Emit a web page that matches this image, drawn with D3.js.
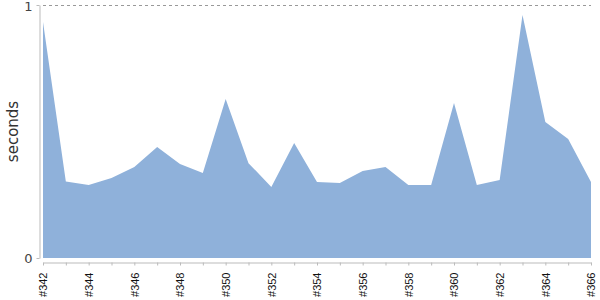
<!DOCTYPE html>
<html>
<head>
<meta charset="utf-8">
<script src="https://cdn.jsdelivr.net/npm/d3@7"></script>
<style>
  body { margin: 0; background: #fff; }
  svg { display: block; font-family: "Liberation Sans", Arial, sans-serif; }
</style>
</head>
<body>
<svg id="chart" width="600" height="300"></svg>
<script>
// builds on the x axis
var builds = ["#342","#343","#344","#345","#346","#347","#348","#349","#350","#351",
              "#352","#353","#354","#355","#356","#357","#358","#359","#360","#361",
              "#362","#363","#364","#365","#366"];
// duration in seconds
var seconds = [0.933, 0.302, 0.289, 0.316, 0.360, 0.439, 0.372, 0.336, 0.628, 0.375,
               0.281, 0.455, 0.300, 0.296, 0.344, 0.360, 0.289, 0.289, 0.613, 0.289,
               0.308, 0.960, 0.538, 0.470, 0.300];
var yTicks = [0, 1];

var margin = {top: 5, right: 9, bottom: 42, left: 43};
var width = 600, height = 300;

var svg = d3.select("#chart");

var x = d3.scalePoint()
    .domain(builds)
    .range([margin.left, width - margin.right]);

var y = d3.scaleLinear()
    .domain([0, 1])
    .range([height - margin.bottom, margin.top]);

var data = builds.map(function(b, i) { return {build: b, value: seconds[i]}; });

// area
var area = d3.area()
    .x(function(d) { return x(d.build); })
    .y0(y(0))
    .y1(function(d) { return y(d.value); });

svg.append("path")
    .datum(data)
    .attr("d", area)
    .attr("fill", "#8fb1da");

// dashed line at top
svg.append("line")
    .attr("x1", margin.left).attr("x2", width - margin.right)
    .attr("y1", y(1) + 0.5).attr("y2", y(1) + 0.5)
    .attr("stroke", "#999")
    .attr("stroke-dasharray", "3,3");

// y axis
var yAxis = svg.append("g")
    .attr("transform", "translate(" + (margin.left - 3.5) + ",0)")
    .call(d3.axisLeft(y).tickValues(yTicks).tickFormat(d3.format("d")).tickSize(3).tickSizeOuter(0));
yAxis.select(".domain").attr("stroke", "#bbb");
yAxis.selectAll(".tick line").attr("stroke", "#bbb");
yAxis.selectAll(".tick text")
    .attr("fill", "#444")
    .attr("font-family", "DejaVu Sans, sans-serif")
    .attr("font-size", 13)
    .attr("x", -7)
    .attr("dy", function(d) { return d === 1 ? "0.45em" : "0.32em"; });

// x axis
var xAxis = svg.append("g")
    .attr("transform", "translate(0," + (height - margin.bottom + 4.5) + ")")
    .call(d3.axisBottom(x).tickSize(3).tickSizeOuter(0));
xAxis.select(".domain").attr("stroke", "#bbb");
xAxis.selectAll(".tick line").attr("stroke", "#bbb");
xAxis.selectAll(".tick text")
    .text(function(d, i) { return i % 2 === 0 ? d : ""; })
    .attr("fill", "#111")
    .attr("font-size", 11)
    .attr("text-anchor", "end")
    .attr("dy", "0.35em")
    .attr("transform", "rotate(-90)")
    .attr("x", -10)
    .attr("y", 0);

// y label
svg.append("text")
    .attr("transform", "translate(18," + ((margin.top + height - margin.bottom) / 2) + ") rotate(-90)")
    .attr("text-anchor", "middle")
    .attr("fill", "#333")
    .attr("font-family", "DejaVu Sans, sans-serif")
    .attr("font-size", 15)
    .text("seconds");
</script>
</body>
</html>
